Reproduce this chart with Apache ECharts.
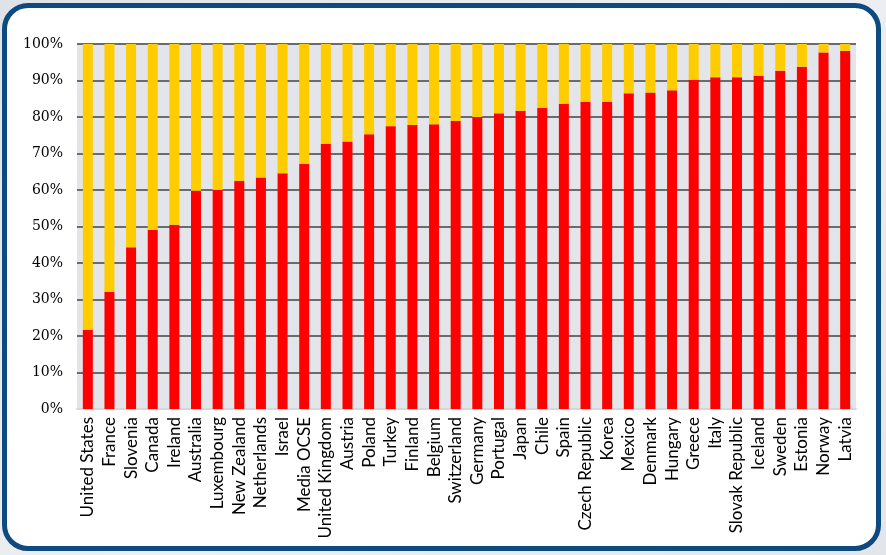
<!DOCTYPE html>
<html>
<head>
<meta charset="utf-8">
<script src="https://cdn.jsdelivr.net/npm/echarts@6/dist/echarts.min.js"></script>
<style>
  html, body { margin: 0; padding: 0; width: 886px; height: 555px; overflow: hidden;
    background: linear-gradient(135deg, #dfe3e8 0%, #eef0f3 50%, #e2e6ea 100%); }
  #frame { position: absolute; left: 2px; top: 3px; width: 869px; height: 538px;
    border: 5px solid #0c4a80; border-radius: 26px; background: #ffffff; }
  #chart { position: absolute; left: 0; top: 0; width: 886px; height: 555px; }
</style>
</head>
<body>
<div id="frame"></div>
<div id="chart"></div>
<script>
const categories = ["United States","France","Slovenia","Canada","Ireland","Australia","Luxembourg","New Zealand","Netherlands","Israel","Media OCSE","United Kingdom","Austria","Poland","Turkey","Finland","Belgium","Switzerland","Germany","Portugal","Japan","Chile","Spain","Czech Republic","Korea","Mexico","Denmark","Hungary","Greece","Italy","Slovak Republic","Iceland","Sweden","Estonia","Norway","Latvia"];
const redValues = [21.7,32.1,44.3,49.1,50.5,59.8,60.0,62.5,63.4,64.6,67.1,72.6,73.3,75.3,77.5,77.8,78.0,78.9,80.0,81.0,81.7,82.5,83.6,84.2,84.2,86.5,86.7,87.3,90.2,90.9,90.9,91.3,92.7,93.8,97.7,98.1];
const yellowValues = [78.3,67.9,55.7,50.9,49.5,40.2,40.0,37.5,36.6,35.4,32.9,27.4,26.7,24.7,22.5,22.2,22.0,21.1,20.0,19.0,18.3,17.5,16.4,15.8,15.8,13.5,13.3,12.7,9.8,9.1,9.1,8.7,7.3,6.2,2.3,1.9];
const yTicks = [0,10,20,30,40,50,60,70,80,90,100];

const chart = echarts.init(document.getElementById('chart'), null, {renderer: 'canvas'});
chart.setOption({
  backgroundColor: 'transparent',
  animation: false,
  grid: { left: 77, right: 30, top: 44, bottom: 146, show: true, backgroundColor: '#e4e5ea', borderWidth: 0 },
  xAxis: {
    type: 'category',
    data: categories,
    axisTick: { show: false },
    axisLine: { show: true, lineStyle: { color: '#d6d7db', width: 2 } },
    axisLabel: { rotate: 90, interval: 0, margin: 8, color: '#000', fontFamily: 'Lato', fontSize: 17 }
  },
  yAxis: {
    type: 'value',
    min: yTicks[0], max: yTicks[yTicks.length - 1], interval: 10,
    axisLine: { show: false },
    axisTick: { show: false },
    splitLine: { show: true, lineStyle: { color: '#6b6b6b', width: 2 } },
    axisLabel: { formatter: '{value}%', color: '#000', fontFamily: 'DejaVu Serif', fontSize: 14, margin: 14 }
  },
  series: [
    { name: 'A', type: 'bar', stack: 'total', data: redValues, barWidth: 10, itemStyle: { color: '#ff0000' } },
    { name: 'B', type: 'bar', stack: 'total', data: yellowValues, barWidth: 10, itemStyle: { color: '#ffcc00' } }
  ]
});
</script>
</body>
</html>
